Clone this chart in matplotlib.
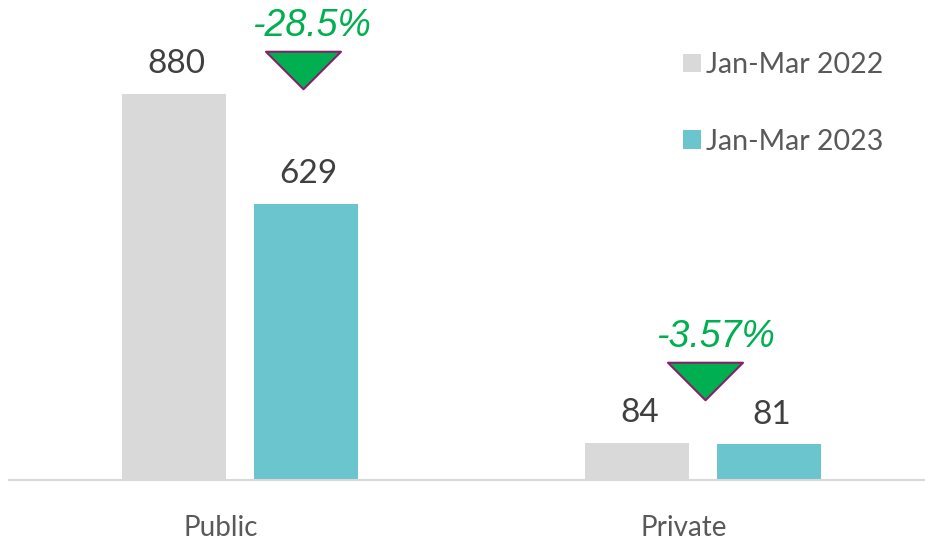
import numpy as np
import matplotlib
matplotlib.use("Agg")
import matplotlib.pyplot as plt
from matplotlib.path import Path
from matplotlib.transforms import ScaledTranslation

# data
categories = ["Public", "Private"]
series_names = ["Jan-Mar 2022", "Jan-Mar 2023"]
values_2022 = [880, 84]
values_2023 = [629, 81]
change_labels = ["-28.5%", "-3.57%"]

GREY = "#d9d9d9"
TEAL = "#6bc5cf"
GREEN = "#00b050"
PURPLE = "#85206a"

fig = plt.figure(figsize=(9.25, 5.42), dpi=100)
ax = fig.add_axes([9 / 925, 62 / 542, 916 / 925, 480 / 542])

x = np.arange(len(categories))
width = 0.225
offset = 0.1425

bars_a = ax.bar(x - offset, values_2022, width, color=GREY, label=series_names[0])
bars_b = ax.bar(x + offset, values_2023, width, color=TEAL, label=series_names[1])

ax.set_xlim(-0.499, 1.479)
ax.set_ylim(0, 1094)

# value labels above bars
for bars in (bars_a, bars_b):
    for b in bars:
        ax.annotate(f"{b.get_height():.0f}",
                    (b.get_x() + b.get_width() / 2 + 0.006, b.get_height()),
                    xytext=(0, 15), textcoords="offset points",
                    ha="center", va="baseline", fontsize=24,
                    family="Lato", color="#404040")

# down-triangle markers with percentage change
tri = Path([(-1, 0.5), (1, 0.5), (0, -0.5), (-1, 0.5)],
           [Path.MOVETO, Path.LINETO, Path.LINETO, Path.CLOSEPOLY])
tri_x = [0.136, 1.005]
tri_y = [935, 226]
txt_x = [0.155, 1.026]
txt_y = [1012, 303]
for i, lab in enumerate(change_labels):
    ax.plot(tri_x[i], tri_y[i], marker=tri, markersize=54,
            markerfacecolor=GREEN, markeredgecolor=PURPLE,
            markeredgewidth=1.5, linestyle="none")
    ax.text(txt_x[i], txt_y[i], lab, ha="center", va="baseline",
            fontsize=27, style="italic", family="Liberation Sans",
            color=GREEN)

# axis styling
for s in ("top", "right", "left"):
    ax.spines[s].set_visible(False)
ax.spines["bottom"].set_color(GREY)
ax.spines["bottom"].set_linewidth(1.5)
ax.set_yticks([])
ax.set_xticks(x)
ax.set_xticklabels(categories, fontsize=20, family="Lato", color="#595959")
ax.tick_params(axis="x", length=0, pad=25)
shift = ScaledTranslation(-19 / 100, 0, fig.dpi_scale_trans)
for t in ax.get_xticklabels():
    t.set_transform(t.get_transform() + shift)

leg = fig.legend(loc="upper left", bbox_to_anchor=(683 / 925, 1 - 52 / 542),
                 frameon=False, handlelength=0.62, handleheight=0.62,
                 handletextpad=0.2, labelspacing=1.78, borderpad=0,
                 borderaxespad=0, prop={"family": "Lato", "size": 20.5})
for t in leg.get_texts():
    t.set_color("#595959")

fig.savefig("out.png", dpi=100)
